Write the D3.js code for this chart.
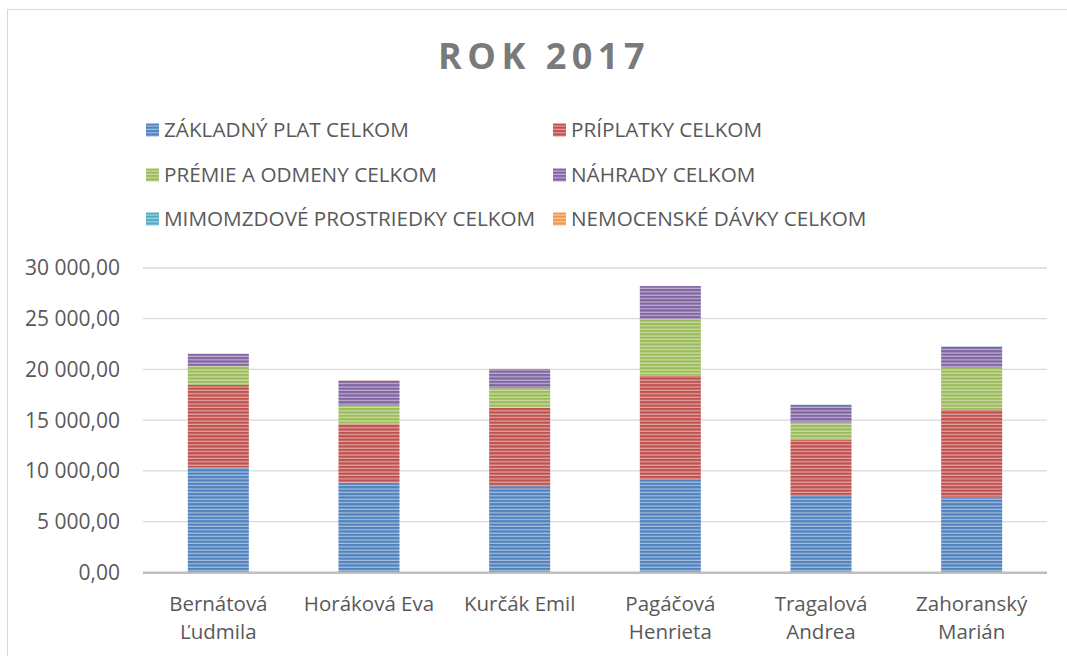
<!DOCTYPE html>
<html>
<head>
<meta charset="utf-8">
<script src="https://cdn.jsdelivr.net/npm/d3@7"></script>
<style>
  html, body { margin: 0; padding: 0; background: #fff; }
  svg { display: block; }
  text { font-family: "Open Sans", "Noto Sans", sans-serif; }
</style>
</head>
<body>
<svg id="chart" width="1067" height="656"></svg>
<script>
// ---- DATA ----
const title = "ROK 2017";
const categories = ["Bernátová Ľudmila", "Horáková Eva", "Kurčák Emil", "Pagáčová Henrieta", "Tragalová Andrea", "Zahoranský Marián"];
const categoryLines = [["Bernátová", "Ľudmila"], ["Horáková Eva"], ["Kurčák Emil"], ["Pagáčová", "Henrieta"], ["Tragalová", "Andrea"], ["Zahoranský", "Marián"]];
const seriesNames = ["ZÁKLADNÝ PLAT CELKOM", "PRÍPLATKY CELKOM", "PRÉMIE A ODMENY CELKOM", "NÁHRADY CELKOM", "MIMOMZDOVÉ PROSTRIEDKY CELKOM", "NEMOCENSKÉ DÁVKY CELKOM"];
const zakladnyPlat = [10320, 8840, 8490, 9180, 7630, 7400];
const priplatky    = [8160, 5820, 7750, 10190, 5430, 8610];
const premie       = [1850, 1780, 1910, 5620, 1710, 4170];
const nahrady      = [1190, 2470, 1900, 3230, 1720, 2070];
const mimomzdove   = [40, 0, 0, 0, 40, 40];
const nemocenske   = [0, 40, 0, 0, 0, 0];
const yTicks = [0, 5000, 10000, 15000, 20000, 25000, 30000];
const colors = ["#4F81BD", "#C0504D", "#9BBB59", "#8064A2", "#4BACC6", "#F79646"];

const seriesValues = [zakladnyPlat, priplatky, premie, nahrady, mimomzdove, nemocenske];

// ---- LAYOUT ----
const svg = d3.select("#chart");
const plot = { left: 143, right: 1047, top: 268, bottom: 572.3 };

svg.append("rect").attr("x", 7.5).attr("y", 9.5).attr("width", 1075).attr("height", 660)
  .attr("fill", "#fff").attr("stroke", "#d9d9d9").attr("stroke-width", 1);

// patterns
const defs = svg.append("defs");
colors.forEach((c, i) => {
  const p = defs.append("pattern").attr("id", "pat" + i)
    .attr("patternUnits", "userSpaceOnUse").attr("width", 8).attr("height", 3.4);
  p.append("rect").attr("width", 8).attr("height", 3.4).attr("fill", d3.interpolateRgb(c, "#ffffff")(0.5));
  p.append("rect").attr("width", 8).attr("height", 2.2).attr("fill", c);
});

// scales
const x = d3.scaleBand().domain(categories).range([plot.left, plot.right])
  .paddingInner(0.595).paddingOuter(0.2975);
const y = d3.scaleLinear().domain([0, 30000]).range([plot.bottom, plot.top]);

// gridlines
svg.append("g").selectAll("line").data(yTicks.filter(t => t > 0)).join("line")
  .attr("x1", plot.left).attr("x2", plot.right)
  .attr("y1", d => y(d)).attr("y2", d => y(d))
  .attr("stroke", "#d9d9d9").attr("stroke-width", 1.3);

// y axis labels
const fmt = v => {
  const s = d3.format(",.2f")(v);
  return s.replace(/,/g, " ").replace(".", ",");
};
svg.append("g").selectAll("text").data(yTicks).join("text")
  .attr("x", 120).attr("y", d => y(d)).attr("dy", "0.35em")
  .attr("text-anchor", "end").attr("fill", "#595959").attr("font-size", 21)
  .text(d => fmt(d));

// stacked bars
const rows = categories.map((c, i) => {
  const o = { cat: c };
  seriesValues.forEach((s, k) => o["s" + k] = s[i]);
  return o;
});
const stack = d3.stack().keys(seriesValues.map((s, k) => "s" + k))(rows);
svg.append("g").selectAll("g").data(stack).join("g")
  .attr("fill", (d, k) => `url(#pat${k})`)
  .selectAll("rect").data(d => d).join("rect")
  .attr("x", d => x(d.data.cat))
  .attr("width", x.bandwidth())
  .attr("y", d => y(d[1]))
  .attr("height", d => Math.max(0, y(d[0]) - y(d[1])));

// baseline
svg.append("line").attr("x1", plot.left).attr("x2", plot.right)
  .attr("y1", y(0) + 0.5).attr("y2", y(0) + 0.5)
  .attr("stroke", "#bfbfbf").attr("stroke-width", 2.5);

// x labels
const xl = svg.append("g").selectAll("text").data(categories).join("text")
  .attr("text-anchor", "middle").attr("fill", "#595959").attr("font-size", 20.5)
  .attr("x", d => x(d) + x.bandwidth() / 2);
xl.each(function (d, i) {
  d3.select(this).selectAll("tspan").data(categoryLines[i]).join("tspan")
    .attr("x", x(d) + x.bandwidth() / 2)
    .attr("y", (l, j) => 604 + j * 28)
    .attr("dy", "0.35em")
    .text(l => l);
});

// title
svg.append("text").attr("x", 544).attr("y", 56).attr("dy", "0.35em")
  .attr("text-anchor", "middle").attr("fill", "#7a7a7a")
  .attr("font-size", 36).attr("font-weight", "bold").attr("letter-spacing", 5.5)
  .text(title);

// legend
const legendCols = [146, 553];
const legendRows = [130, 175, 219];
const lg = svg.append("g").selectAll("g").data(seriesNames).join("g")
  .attr("transform", (d, i) => `translate(${legendCols[i % 2]},${legendRows[Math.floor(i / 2)]})`);
lg.append("rect").attr("x", 0).attr("y", -6.5).attr("width", 13).attr("height", 13)
  .attr("fill", (d, i) => `url(#pat${i})`);
lg.append("text").attr("x", 18).attr("y", 0).attr("dy", "0.35em")
  .attr("fill", "#595959").attr("font-size", 20.7).text(d => d);
</script>
</body>
</html>
